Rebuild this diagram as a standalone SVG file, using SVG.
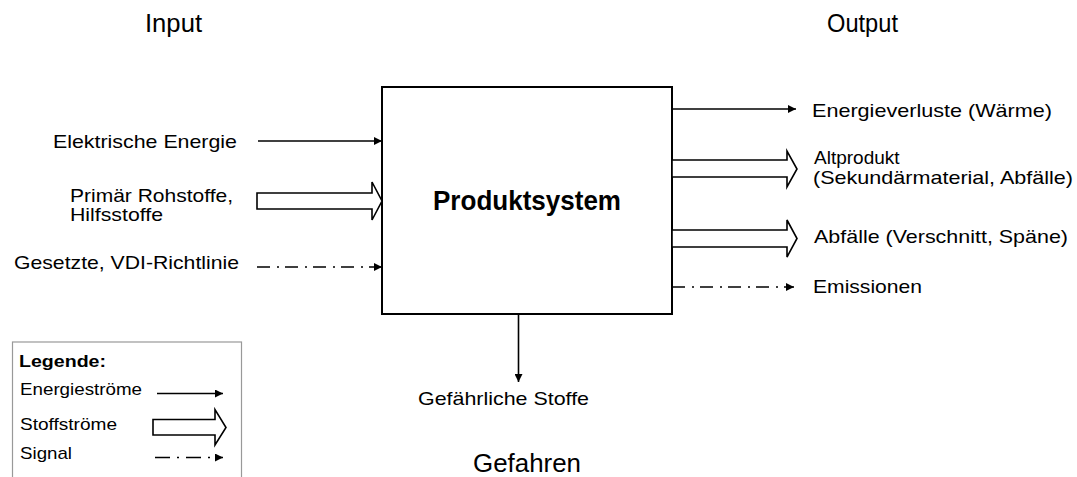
<svg xmlns="http://www.w3.org/2000/svg" width="1077" height="477" viewBox="0 0 1077 477">
<defs>
<style>
text{font-family:"Liberation Sans",Arial,sans-serif;fill:#000}
.t{font-size:19px}
.h{font-size:26px}
.l{font-size:17px}
.lb{font-size:16px;font-weight:bold}
.ln{stroke:#000;stroke-width:1.6;fill:none}
.sig{stroke:#000;stroke-width:1.5;fill:none;stroke-dasharray:13 7 2 6}
.sigl{stroke:#000;stroke-width:1.5;fill:none;stroke-dasharray:15 7 2 7}
.hol{stroke:#000;stroke-width:1.6;fill:#fff}
</style>
<marker id="ah" viewBox="0 0 10 10" refX="10" refY="5" markerWidth="9" markerHeight="8" markerUnits="userSpaceOnUse" orient="auto">
<path d="M0,0 L10,5 L0,10 Z" fill="#000"/>
</marker>
</defs>
<rect width="1077" height="477" fill="#fff"/>

<g id="titles">
<text class="h" x="145" y="32" textLength="57" lengthAdjust="spacingAndGlyphs">Input</text>
<text class="h" x="827" y="32" textLength="71" lengthAdjust="spacingAndGlyphs">Output</text>
<text class="h" x="473" y="472" textLength="108" lengthAdjust="spacingAndGlyphs">Gefahren</text>
</g>

<g id="produktsystem">
<rect x="382" y="87" width="290" height="227" fill="#fff" stroke="#000" stroke-width="2"/>
<text x="433" y="210" font-size="27" font-weight="bold" textLength="188" lengthAdjust="spacingAndGlyphs">Produktsystem</text>
</g>

<g id="inputs">
<text class="t" x="53" y="148" textLength="184" lengthAdjust="spacingAndGlyphs">Elektrische Energie</text>
<text class="t" x="70" y="202" textLength="163" lengthAdjust="spacingAndGlyphs">Primär Rohstoffe,</text>
<text class="t" x="70" y="221" textLength="93" lengthAdjust="spacingAndGlyphs">Hilfsstoffe</text>
<text class="t" x="14" y="269" textLength="225" lengthAdjust="spacingAndGlyphs">Gesetzte, VDI-Richtlinie</text>
</g>

<g id="outputs">
<text class="t" x="812" y="117" textLength="240" lengthAdjust="spacingAndGlyphs">Energieverluste (Wärme)</text>
<text class="t" x="814" y="164">Altprodukt</text>
<text class="t" x="813" y="184" textLength="260" lengthAdjust="spacingAndGlyphs">(Sekundärmaterial, Abfälle)</text>
<text class="t" x="814" y="243" textLength="254" lengthAdjust="spacingAndGlyphs">Abfälle (Verschnitt, Späne)</text>
<text class="t" x="813" y="293" textLength="109" lengthAdjust="spacingAndGlyphs">Emissionen</text>
<text class="t" x="418" y="405" textLength="171" lengthAdjust="spacingAndGlyphs">Gefährliche Stoffe</text>
</g>

<g id="connectors">
<line class="ln" x1="258" y1="141" x2="382" y2="141" marker-end="url(#ah)"/>
<polygon class="hol" points="257,193 372,193 372,182 382,201 372,220 372,209 257,209"/>
<line class="sig" x1="257" y1="267" x2="382" y2="267" marker-end="url(#ah)"/>

<line class="ln" x1="672" y1="109" x2="796" y2="109" marker-end="url(#ah)"/>
<polygon class="hol" points="672,160 787,160 787,151 797,169 787,187 787,177 672,177"/>
<polygon class="hol" points="672,230 787,230 787,220 797,238.5 787,257 787,247 672,247"/>
<line class="sig" x1="672" y1="287" x2="794" y2="287" marker-end="url(#ah)"/>

<line class="ln" x1="518.5" y1="314" x2="518.5" y2="382" marker-end="url(#ah)"/>
</g>

<g id="legende">
<rect x="12.5" y="342" width="229" height="140" fill="#fff" stroke="#999" stroke-width="1.2"/>
<text class="lb" x="19" y="367" textLength="87" lengthAdjust="spacingAndGlyphs">Legende:</text>
<text class="l" x="20" y="395" textLength="122" lengthAdjust="spacingAndGlyphs">Energieströme</text>
<text class="l" x="20" y="430" textLength="97" lengthAdjust="spacingAndGlyphs">Stoffströme</text>
<text class="l" x="20" y="459" textLength="52" lengthAdjust="spacingAndGlyphs">Signal</text>
<line class="ln" x1="157" y1="393.5" x2="223" y2="393.5" marker-end="url(#ah)"/>
<polygon class="hol" points="153,419.5 215,419.5 215,409.5 226,427.5 215,445 215,435 153,435"/>
<line class="sigl" x1="155" y1="457.5" x2="223" y2="457.5" marker-end="url(#ah)"/>
</g>
</svg>
